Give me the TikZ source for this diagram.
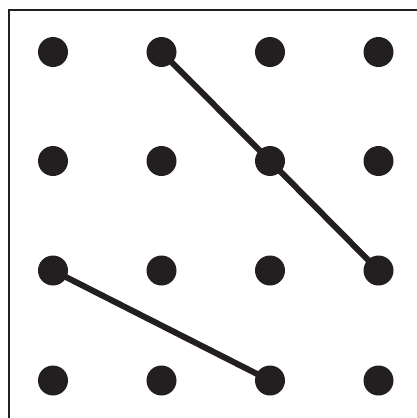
\documentclass[tikz,border=0pt]{standalone}
\usepackage{tikz}
\usetikzlibrary{positioning}
\definecolor{gdink}{RGB}{35,31,32}
\tikzset{
  gddot/.style={circle, fill=gdink, inner sep=0pt, minimum size=30pt},
  gdseg/.style={draw=gdink, line width=6pt, line cap=round},
  gdframe/.style={draw=gdink, line width=1.5pt}
}

\begin{document}
\begin{tikzpicture}[x=1pt, y=-1pt]
  \useasboundingbox (0,0) rectangle (417,418);
  \coordinate (corner) at (9,10);
  \coordinate (topend) at (417,10);
  \coordinate (leftend) at (9,418);
  \draw[gdframe] (topend) -- (corner) -- (leftend);
  % 4x4 grid of dots
  \foreach \i/\x in {1/53,2/161.5,3/270,4/378.5}
    \foreach \j/\y in {1/52,2/161,3/270.5,4/380.5}
      \node[gddot] (d-\i-\j) at (\x,\y) {};
  \draw[gdseg] (d-2-1.center) -- (d-3-2.center) -- (d-4-3.center);
  \draw[gdseg] (d-1-3.center) -- (d-3-4.center);
\end{tikzpicture}
\end{document}
